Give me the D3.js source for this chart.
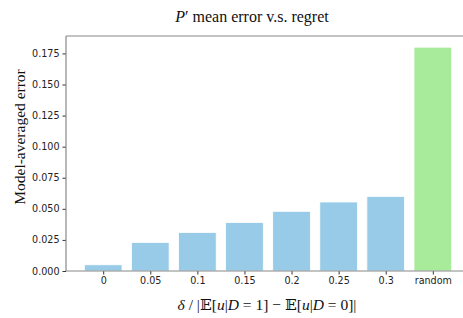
<!DOCTYPE html>
<html>
<head>
<meta charset="utf-8">
<script src="https://cdn.jsdelivr.net/npm/d3@7"></script>
<style>
  body { margin: 0; background: #fff; }
  .tick text { font-family: "DejaVu Sans", sans-serif; font-size: 9.6px; fill: #222; }
  .tick line { stroke: #333; }
</style>
</head>
<body>
<div id="chart"></div>
<script>
// chart values
const categories = ['0', '0.05', '0.1', '0.15', '0.2', '0.25', '0.3', 'random'];
const errors = [0.005, 0.023, 0.031, 0.039, 0.048, 0.0555, 0.060, 0.180];
const barColors = ['#97cbe7', '#97cbe7', '#97cbe7', '#97cbe7', '#97cbe7', '#97cbe7', '#97cbe7', '#a8eb9a'];
const yTicks = [0, 0.025, 0.05, 0.075, 0.1, 0.125, 0.15, 0.175];

const svgwidth = 463;
const svgheight = 318;

const margin = { top: 36, bottom: 47, left: 66, right: -7 };
const width = svgwidth - margin.left - margin.right;
const height = svgheight - margin.top - margin.bottom;

const svg = d3.select('#chart').append('svg')
    .attr('width', svgwidth).attr('height', svgheight);

const chartGroup = svg.append('g')
    .attr('transform', `translate(${margin.left},${margin.top})`);

// x like matplotlib: index positions with 0.8 wide bars
const n = categories.length;
const xScale = d3.scaleLinear()
    .domain([-0.79, n - 1 + 0.79])
    .range([0, width]);
const unit = xScale(1) - xScale(0);

const yScale = d3.scaleLinear()
    .domain([0, 0.189])
    .range([height, 0]);

// bars
chartGroup.selectAll('rect.bar')
    .data(errors).enter()
    .append('rect')
    .attr('class', 'bar')
    .attr('x', (d, i) => xScale(i) - unit * 0.4)
    .attr('width', unit * 0.8)
    .attr('y', d => yScale(d))
    .attr('height', d => height - yScale(d))
    .attr('fill', (d, i) => barColors[i])
    .attr('stroke', '#fff')
    .attr('stroke-width', 0.8);

// axes
const xAxis = d3.axisBottom(xScale)
    .tickValues(d3.range(n))
    .tickFormat(i => categories[i])
    .tickSize(3.5).tickPadding(3);
const yAxis = d3.axisLeft(yScale)
    .tickValues(yTicks)
    .tickFormat(d3.format('.3f'))
    .tickSize(3.5).tickPadding(3);

const gx = chartGroup.append('g')
    .attr('transform', `translate(0, ${height})`).call(xAxis);
const gy = chartGroup.append('g').call(yAxis);
gx.select('.domain').remove();
gy.select('.domain').remove();

// spines
chartGroup.append('line').attr('x1', 0).attr('x2', 0).attr('y1', 0).attr('y2', height)
    .attr('stroke', '#888').attr('stroke-width', 1.2);
chartGroup.append('line').attr('x1', 0).attr('x2', width).attr('y1', 0).attr('y2', 0)
    .attr('stroke', '#888').attr('stroke-width', 1.2);
chartGroup.append('line').attr('x1', 0).attr('x2', width).attr('y1', height).attr('y2', height)
    .attr('stroke', '#888').attr('stroke-width', 1.2);

// title
const title = svg.append('text')
    .attr('x', 252).attr('y', 22)
    .attr('text-anchor', 'middle')
    .style('font-family', '"Liberation Serif", serif')
    .style('font-size', '16px')
    .attr('fill', '#111');
title.append('tspan').style('font-style', 'italic').text('P');
title.append('tspan').text('′ mean error v.s. regret');

// y label
svg.append('text')
    .attr('transform', `translate(25, 137) rotate(-90)`)
    .attr('text-anchor', 'middle')
    .style('font-family', '"Liberation Serif", serif')
    .style('font-size', '15.5px')
    .attr('fill', '#111')
    .text('Model-averaged error');

// x label
const xl = svg.append('text')
    .attr('x', 267).attr('y', 310)
    .attr('text-anchor', 'middle')
    .style('font-family', '"Liberation Serif", serif')
    .style('font-size', '15.5px')
    .attr('fill', '#111');
const parts = [
    ['δ', true], [' / |', false], ['𝔼', false, 'DejaVu Serif'], ['[', false], ['u', true], ['|', false], ['D', true], [' = 1] − ', false],
    ['𝔼', false, 'DejaVu Serif'], ['[', false], ['u', true], ['|', false], ['D', true], [' = 0]|', false]
];
parts.forEach(p => {
    const t = xl.append('tspan').style('font-style', p[1] ? 'italic' : 'normal').text(p[0]);
    if (p[2]) t.style('font-family', `"${p[2]}", serif`);
});
</script>
</body>
</html>
